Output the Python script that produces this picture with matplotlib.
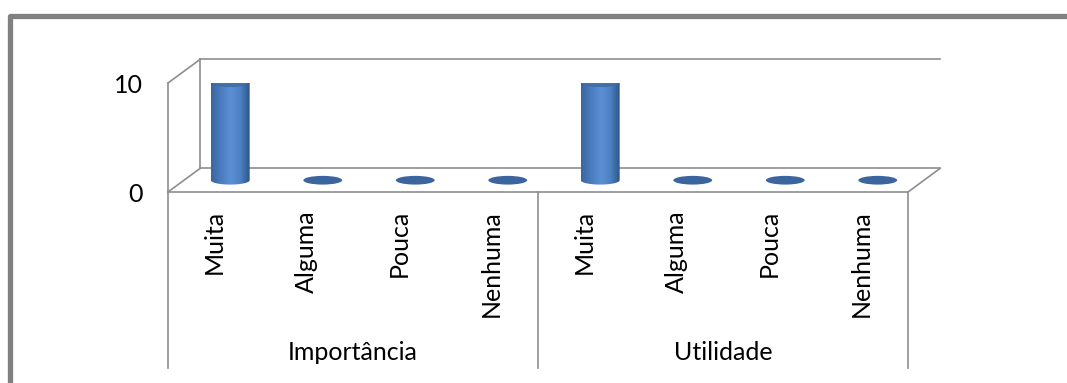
import numpy as np
import matplotlib
matplotlib.use("Agg")
from matplotlib import pyplot as plt
from matplotlib.patches import Ellipse, PathPatch
from matplotlib.path import Path
from matplotlib.lines import Line2D
from matplotlib.colors import LinearSegmentedColormap

groups = ["Importância", "Utilidade"]
levels = ["Muita", "Alguma", "Pouca", "Nenhuma"]
importancia = [9, 0, 0, 0]
utilidade = [9, 0, 0, 0]
y_ticks = [0, 10]

plt.rcParams['font.family'] = ['Lato', 'DejaVu Sans']
grey = "#8e8e8e"
fs = 18

fig = plt.figure(figsize=(10.67, 3.83), dpi=100)
# front plane of the 3d box
ax = fig.add_axes([168 / 1067, 191 / 383, 740 / 1067, 109 / 383])
values = importancia + utilidade
labels = levels * len(groups)
n = len(values)
ax.set_xlim(0, n)
ax.set_ylim(0, 10)
for s in ax.spines.values():
    s.set_visible(False)

# depth of the box in data units
DX, DY = 0.346, 2.16
line_kw = dict(color=grey, lw=1.2, clip_on=False, zorder=1)

# floor
ax.plot([0, n], [0, 0], **line_kw)
ax.plot([DX, n + DX], [DY, DY], **line_kw)
ax.plot([0, DX], [0, DY], **line_kw)
ax.plot([n, n + DX], [0, DY], **line_kw)
# side wall and back wall
ax.plot([0, 0], [0, 10], **line_kw)
ax.plot([0, DX], [10, 10 + DY], **line_kw)
ax.plot([DX, DX], [DY, 10 + DY], **line_kw)
ax.plot([DX, n + DX], [10 + DY, 10 + DY], **line_kw)

# category axis dividers
xt = ax.get_xaxis_transform()
for xb in range(0, n + 1, len(levels)):
    ax.plot([xb, xb], [0, -1.615], transform=xt, **line_kw)

ax.set_xticks(np.arange(n) + 0.5)
ax.set_xticklabels(labels, rotation=90, fontsize=fs)
ax.tick_params(axis='x', length=0, pad=13)
ax.set_yticks(y_ticks)
ax.set_yticklabels([str(t) for t in y_ticks], fontsize=fs)
ax.tick_params(axis='y', length=0, pad=18)

for g, name in enumerate(groups):
    ax.text(g * len(levels) + len(levels) / 2, -1.468, name, transform=xt,
            ha='center', va='center', fontsize=fs)

# cylinders
cmap = LinearSegmentedColormap.from_list(
    "cyl", ["#3a66a0", "#4a7cbf", "#5b8fd4", "#4f82c4", "#2d5688"])
w, eh = 0.42, 0.8
grad = np.linspace(0, 1, 100).reshape(1, -1)
for i, v in enumerate(values):
    cx = i + 0.5 + DX / 2
    base = DY / 2
    if v > 0:
        th = np.linspace(np.pi, 2 * np.pi, 60)
        verts = [(cx - w / 2, base + v), (cx - w / 2, base)]
        verts += list(zip(cx + w / 2 * np.cos(th), base + eh / 2 * np.sin(th)))
        verts += [(cx + w / 2, base + v), (cx - w / 2, base + v)]
        body = PathPatch(Path(verts, closed=True), facecolor='none',
                         edgecolor='none')
        ax.add_patch(body)
        im = ax.imshow(grad, cmap=cmap, aspect='auto', zorder=3,
                       extent=[cx - w / 2, cx + w / 2, base - eh, base + v])
        im.set_clip_path(body)
        ax.add_patch(Ellipse((cx, base + v), w, eh, facecolor="#4471aa",
                             edgecolor="#3b659e", lw=0.5, zorder=4))
    else:
        ax.add_patch(Ellipse((cx, base), w, eh, facecolor="#3b659e",
                             edgecolor='none', zorder=4))

ax.set_xlim(0, n)
ax.set_ylim(0, 10)

# outer chart frame
fig.add_artist(Line2D([9.5 / 1067, 9.5 / 1067, 1], [0, 1 - 15.5 / 383, 1 - 15.5 / 383],
                      color="#808080", lw=3.8))

fig.savefig("out.png", dpi=100)
